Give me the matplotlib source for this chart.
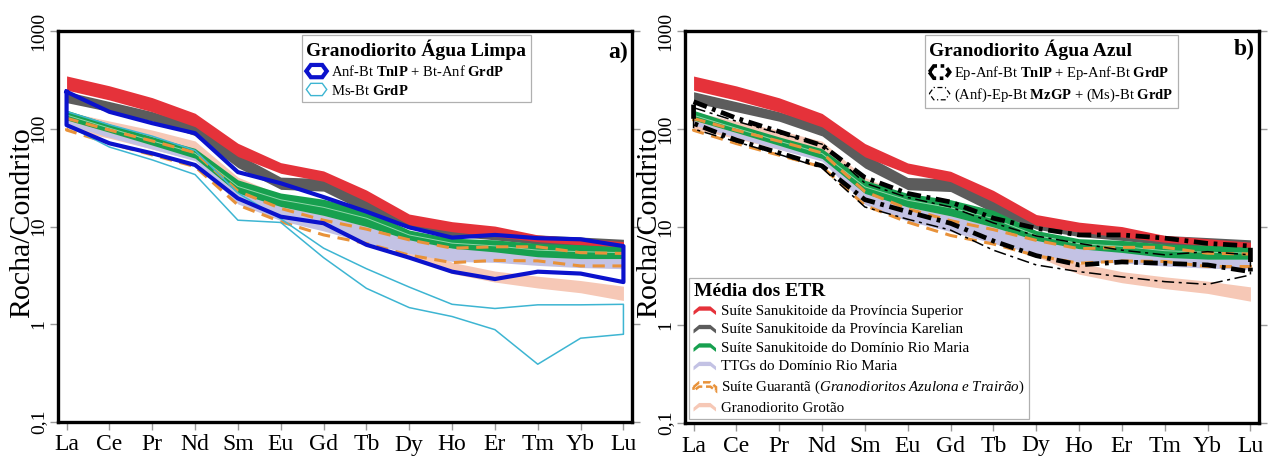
import numpy as np
import matplotlib
matplotlib.use('Agg')
import matplotlib.pyplot as plt
from matplotlib.legend_handler import HandlerBase
from matplotlib.patches import Polygon
from matplotlib.ticker import FixedLocator, FixedFormatter, NullLocator

plt.rcParams['font.family'] = ['Liberation Serif', 'DejaVu Serif']
plt.rcParams['mathtext.fontset'] = 'custom'
plt.rcParams['mathtext.rm'] = 'Liberation Serif'
plt.rcParams['mathtext.it'] = 'Liberation Serif:italic'
plt.rcParams['mathtext.bf'] = 'Liberation Serif:bold'

ree = ['La', 'Ce', 'Pr', 'Nd', 'Sm', 'Eu', 'Gd', 'Tb', 'Dy', 'Ho', 'Er', 'Tm', 'Yb', 'Lu']

# average REE fields (rock / chondrite), lower and upper envelopes
superior_lo = [249, 197, 149, 105, 52, 35, 29, 18, 10.4, 8.85, 7.9, 7.0, 6.5, 6.0]
superior_hi = [347, 275, 208, 144, 71, 45, 37, 23.6, 13.4, 11.2, 10.1, 8.2, 7.6, 7.0]
karelian_lo = [185, 150, 120, 85, 40, 24, 23, 14, 9.5, 8.0, 7.3, 6.6, 6.2, 5.8]
karelian_hi = [240, 190, 150, 110, 55, 32, 31, 20, 12.5, 10, 9.0, 8.2, 7.8, 7.4]
riomaria_lo = [123, 92, 68, 50, 22, 16, 13, 10, 7.3, 6.0, 5.5, 4.9, 4.7, 4.7]
riomaria_hi = [155, 112, 83, 63, 30, 22, 19, 14.8, 9.2, 7.6, 7.3, 6.7, 6.5, 6.2]
ttg_lo = [110, 82, 62, 47, 17, 11.5, 9.0, 6.8, 5.3, 4.4, 4.3, 4.0, 3.8, 3.7]
ttg_hi = [122, 92, 68, 52, 23, 16, 13, 10, 7.5, 6.0, 5.7, 5.5, 5.3, 5.2]
guaranta_lo = [97, 71, 54, 41, 16.6, 11.2, 8.2, 6.7, 5.1, 4.27, 4.5, 4.45, 3.95, 3.95]
guaranta_hi = [128, 97, 75, 57, 23, 15.3, 11.6, 9.4, 7.3, 6.0, 6.2, 6.2, 5.4, 5.3]
grotao_lo = [100, 80, 62, 48, 20, 14, 11, 7.5, 5.0, 3.3, 2.7, 2.35, 2.1, 1.75]
grotao_hi = [150, 120, 97, 75, 32, 21, 16, 11, 7.5, 4.3, 3.5, 3.1, 2.8, 2.45]

# Granodiorito Agua Limpa
anf_bt_lo = [109, 71, 56, 42.6, 19.4, 12.6, 10.8, 6.5, 4.8, 3.45, 2.9, 3.45, 3.3, 2.7]
anf_bt_hi = [239, 149, 114, 90, 36, 27.7, 20, 14.2, 9.8, 7.7, 8.2, 7.6, 7.4, 6.3]
ms_bt_lo = [109, 65, 48, 34, 11.6, 11.0, 4.8, 2.33, 1.48, 1.2, 0.88, 0.39, 0.72, 0.79]
ms_bt_hi = [150, 110, 84, 60, 22, 12, 6.0, 3.7, 2.4, 1.6, 1.45, 1.58, 1.58, 1.6]

# Granodiorito Agua Azul
ep_anf_lo = [114, 77, 57, 42, 19, 14.3, 10.9, 7.2, 5.1, 4.1, 4.4, 4.26, 4.1, 3.5]
ep_anf_hi = [190, 129, 94, 68, 32, 22, 18, 12.3, 9.7, 8.3, 8.3, 7.7, 6.8, 6.4]
mzgp_lo = [100, 74, 55, 40, 16, 12, 9.3, 5.8, 4.1, 3.5, 3.1, 2.77, 2.6, 3.24]
mzgp_hi = [165, 120, 90, 70, 28, 20, 16, 11, 8.1, 6.8, 5.8, 5.2, 5.6, 5.2]

x = np.arange(len(ree))

RED = '#e5323a'
GRAY = '#5c5c5c'
GREEN = '#17a04f'
LAV = '#c3c2e4'
ORANGE = '#e8923a'
PEACH = '#f6c8b6'
BLUE = '#0b12cc'
CYAN = '#3db5d2'


def band(ax, lo, hi, color, z):
    ax.fill_between(x, lo, hi, color=color, lw=0, zorder=z)


def outline(ax, lo, hi, **kw):
    xs = np.concatenate([x, x[::-1], x[:1]])
    ys = np.concatenate([hi, lo[::-1], hi[:1]])
    ax.plot(xs, ys, **kw)


def reference_fields(ax):
    band(ax, grotao_lo, grotao_hi, PEACH, 1)
    band(ax, ttg_lo, ttg_hi, LAV, 2)
    band(ax, karelian_lo, karelian_hi, GRAY, 3)
    band(ax, superior_lo, superior_hi, RED, 4)
    band(ax, riomaria_lo, riomaria_hi, GREEN, 5)
    ax.plot(x, np.sqrt(np.array(riomaria_lo) * np.array(riomaria_hi)),
            color='#8fd6a8', lw=0.7, zorder=5.5)
    outline(ax, guaranta_lo, guaranta_hi, color=ORANGE, lw=2.2,
            ls=(0, (4, 2.5)), zorder=6)


class Icon:
    def __init__(self, shape, **style):
        self.shape = shape
        self.style = style


class IconHandler(HandlerBase):
    def create_artists(self, legend, h, xd, yd, w, hgt, fs, trans):
        if h.shape == 'hex':
            pts = [(0, .5), (.22, 1.05), (.78, 1.05), (1, .5), (.78, -.05), (.22, -.05)]
        else:
            pts = [(0, .35), (.25, .85), (.75, .85), (1, .35),
                   (1, -.05), (.75, .4), (.25, .4), (0, -.05)]
        verts = [(-xd + px * w, -yd + py * hgt) for px, py in pts]
        return [Polygon(verts, closed=True, transform=trans, **h.style)]


def style_axes(ax):
    ax.set_yscale('log')
    ax.set_ylim(0.1, 1000)
    ax.set_xlim(-0.2, 13.2)
    ax.yaxis.set_major_locator(FixedLocator([0.1, 1, 10, 100, 1000]))
    ax.yaxis.set_major_formatter(FixedFormatter(['0,1', '1', '10', '100', '1000']))
    ax.yaxis.set_minor_locator(NullLocator())
    ax.set_xticks(x)
    ax.set_xticklabels(ree, fontsize=17)
    ax.tick_params(axis='x', direction='out', length=6, width=1, color='#9a9a9a',
                   pad=3, bottom=True)
    ax.tick_params(axis='y', direction='out', length=6, width=1, color='#9a9a9a',
                   left=True, right=True, labelsize=14, pad=2)
    for lab in ax.get_yticklabels():
        lab.set_rotation(90)
        lab.set_va('center')
    for sp in ax.spines.values():
        sp.set_linewidth(2.4)
        sp.set_color('black')
    ax.set_ylabel('Rocha/Condrito', fontsize=21.5)
    ax.yaxis.set_label_coords(-0.039, 0.51)


def legend_kw(size, spacing):
    return dict(handler_map={Icon: IconHandler()}, alignment='left', fontsize=size,
                title_fontproperties={'weight': 'bold', 'size': 14}, frameon=True,
                fancybox=False, edgecolor='#b0b0b0', framealpha=1, borderpad=0.3,
                handletextpad=0.3, labelspacing=spacing, borderaxespad=0)


fig = plt.figure(figsize=(12.82, 4.59), dpi=100)
ax1 = fig.add_axes([58 / 1282, 37 / 459, 574 / 1282, 391 / 459])
ax2 = fig.add_axes([685 / 1282, 36 / 459, 574 / 1282, 392 / 459])

# a) Granodiorito Agua Limpa
reference_fields(ax1)
outline(ax1, ms_bt_lo, ms_bt_hi, color=CYAN, lw=1.1, zorder=7)
outline(ax1, anf_bt_lo, anf_bt_hi, color=BLUE, lw=3.0, zorder=8)
style_axes(ax1)
ax1.text(0.993, 0.945, 'a)', transform=ax1.transAxes, ha='right', va='center',
         fontsize=17, fontweight='bold')
leg_a = ax1.legend(
    [Icon('hex', fill=False, edgecolor=BLUE, lw=3.0),
     Icon('hex', fill=False, edgecolor=CYAN, lw=1.0)],
    [r'Anf-Bt $\mathbf{TnlP}$ + Bt-Anf $\mathbf{GrdP}$', r'Ms-Bt $\mathbf{GrdP}$'],
    loc='upper left', bbox_to_anchor=(0.425, 0.99), title='Granodiorito Água Limpa',
    handlelength=1.4, handleheight=0.8, **legend_kw(10.5, 0.3))
leg_a.get_frame().set_linewidth(0.9)

# b) Granodiorito Agua Azul
reference_fields(ax2)
outline(ax2, mzgp_lo, mzgp_hi, color='black', lw=1.1, ls=(0, (8, 3, 2, 3)), zorder=7)
outline(ax2, ep_anf_lo, ep_anf_hi, color='black', lw=3.4, ls=(0, (3, 1.2, 0.8, 1.2)),
        zorder=8)
style_axes(ax2)
ax2.text(0.993, 0.952, 'b)', transform=ax2.transAxes, ha='right', va='center',
         fontsize=17, fontweight='bold')
leg_b = ax2.legend(
    [Icon('hex', fill=False, edgecolor='black', lw=2.6, ls=(0, (3, 1, 1, 1))),
     Icon('hex', fill=False, edgecolor='black', lw=0.9, ls=(0, (4, 2, 1, 2)))],
    [r'Ep-Anf-Bt $\mathbf{TnlP}$ + Ep-Anf-Bt $\mathbf{GrdP}$',
     r'(Anf)-Ep-Bt $\mathbf{MzGP}$ + (Ms)-Bt $\mathbf{GrdP}$'],
    loc='upper left', bbox_to_anchor=(0.418, 0.99), title='Granodiorito Água Azul',
    handlelength=1.4, handleheight=0.8, **legend_kw(10.5, 0.3))
leg_b.get_frame().set_linewidth(0.9)
ax2.add_artist(leg_b)

leg_m = ax2.legend(
    [Icon('arch', facecolor=RED, edgecolor='none'),
     Icon('arch', facecolor=GRAY, edgecolor='none'),
     Icon('arch', facecolor=GREEN, edgecolor='none'),
     Icon('arch', facecolor=LAV, edgecolor='none'),
     Icon('arch', fill=False, edgecolor=ORANGE, lw=1.8, ls=(0, (3, 1.5))),
     Icon('arch', facecolor=PEACH, edgecolor='none')],
    ['Suíte Sanukitoide da Província Superior',
     'Suíte Sanukitoide da Província Karelian',
     'Suíte Sanukitoide do Domínio Rio Maria',
     'TTGs do Domínio Rio Maria',
     r'Suíte Guarantã ($\mathit{Granodioritos\ Azulona\ e\ Trairão}$)',
     'Granodiorito Grotão'],
    loc='lower left', bbox_to_anchor=(0.007, 0.01), title='Média dos ETR',
    handlelength=1.5, handleheight=0.6, **legend_kw(10.8, 0.36))
leg_m.get_frame().set_linewidth(0.9)
leg_m.set_zorder(20)

fig.savefig('out.png', dpi=100)
